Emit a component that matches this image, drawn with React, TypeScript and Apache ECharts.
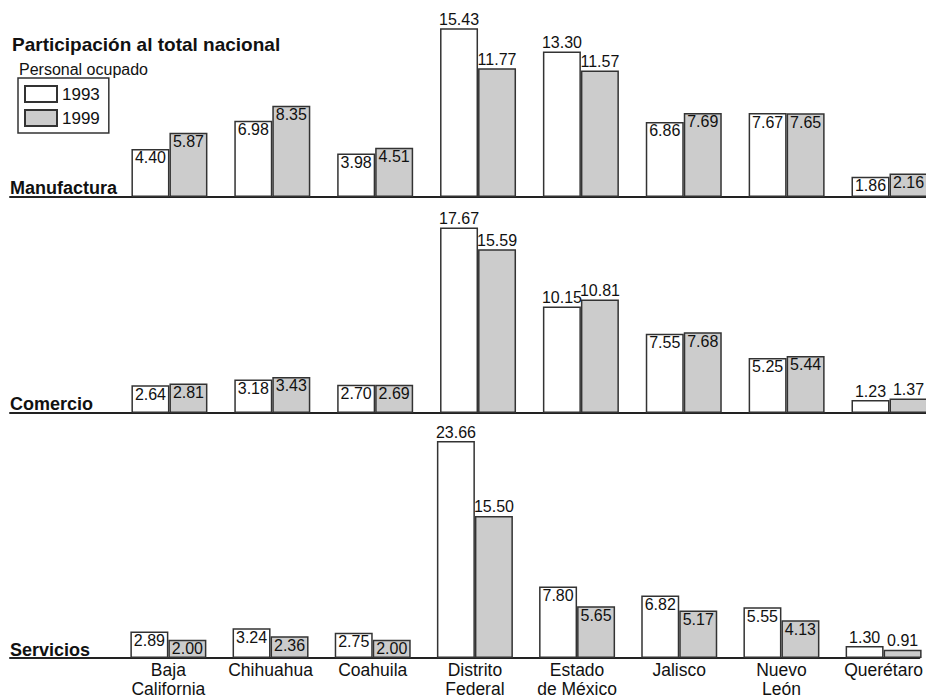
import React, { useEffect, useRef } from "react";
import * as echarts from "echarts";

const categories = ["Baja\nCalifornia", "Chihuahua", "Coahuila", "Distrito\nFederal", "Estado\nde México", "Jalisco", "Nuevo\nLeón", "Querétaro"];
const years = ["1993", "1999"];
const panels = ["Manufactura", "Comercio", "Servicios"];

const manufactura1993 = [4.40, 6.98, 3.98, 15.43, 13.30, 6.86, 7.67, 1.86];
const manufactura1999 = [5.87, 8.35, 4.51, 11.77, 11.57, 7.69, 7.65, 2.16];
const comercio1993 = [2.64, 3.18, 2.70, 17.67, 10.15, 7.55, 5.25, 1.23];
const comercio1999 = [2.81, 3.43, 2.69, 15.59, 10.81, 7.68, 5.44, 1.37];
const servicios1993 = [2.89, 3.24, 2.75, 23.66, 7.80, 6.82, 5.55, 1.30];
const servicios1999 = [2.00, 2.36, 2.00, 15.50, 5.65, 5.17, 4.13, 0.91];

const panelData = [
  [manufactura1993, manufactura1999],
  [comercio1993, comercio1999],
  [servicios1993, servicios1999],
];

const FONT = "'Liberation Sans', Arial, Helvetica, sans-serif";
const panelMax = [16, 18, 24];
const gridTop = [22, 224, 438];
const gridBottomY = [197, 413, 659];
const X_MIN = -1.55;
const X_MAX = 7.35;

export default function App() {
  const ref = useRef<HTMLDivElement>(null);
  useEffect(() => {
    if (!ref.current) return;
    const chart = echarts.init(ref.current, null, { renderer: "svg" });
    const grids = panels.map((_, p) => ({
      left: 10,
      right: 0.5,
      top: gridTop[p],
      height: gridBottomY[p] - gridTop[p],
    }));
    const xAxes = panels.map((_, p) => ({
      type: "value",
      gridIndex: p,
      min: X_MIN,
      max: X_MAX,
      interval: p === 2 ? 0.05 : undefined,
      splitLine: { show: false },
      axisTick: { show: false },
      axisLine: { show: true, onZero: false, lineStyle: { color: "#222", width: 2 } },
      axisLabel: p === 2
        ? {
            show: true,
            margin: 3,
            fontSize: 17.5,
            lineHeight: 18.5,
            color: "#111",
            fontFamily: FONT,
            showMinLabel: true,
            showMaxLabel: true,
            formatter: (v: number) => {
              const r = Math.round(v);
              return Math.abs(v - r) < 1e-6 && r >= 0 && r < categories.length ? categories[r] : "";
            },
          }
        : { show: false },
    }));
    const yAxes = panels.map((_, p) => ({
      type: "value",
      gridIndex: p,
      min: 0,
      max: panelMax[p],
      show: false,
    }));
    const series: any[] = [];
    panels.forEach((_, p) => {
      const pxPerUnit = (gridBottomY[p] - gridTop[p]) / panelMax[p];
      years.forEach((yr, y) => {
        series.push({
          type: "bar",
          name: yr,
          xAxisIndex: p,
          yAxisIndex: p,
          barWidth: 38,
          barGap: "0%",
          itemStyle: { color: y === 0 ? "#ffffff" : "#cccccc", borderColor: "#333", borderWidth: 1.5 },
          label: {
            show: true,
            fontSize: 16,
            color: "#111",
            fontFamily: FONT,
            distance: 1,
            formatter: (prm: any) => Number(prm.value[1]).toFixed(2),
          },
          data: panelData[p][y].map((v, i) => ({
            value: [i, v],
            label: { position: v >= 10 || v * pxPerUnit < 16 ? "top" : "insideTop" },
          })),
        });
      });
    });
    chart.setOption({
      animation: false,
      backgroundColor: "#ffffff",
      textStyle: { fontFamily: FONT },
      title: [
        { text: "Participación al total nacional", left: 12, top: 35, padding: 0, textStyle: { fontSize: 19, fontWeight: "bold", color: "#111", fontFamily: FONT } },
        { text: "Personal ocupado", left: 19, top: 61, padding: 0, textStyle: { fontSize: 16, fontWeight: "normal", color: "#111", fontFamily: FONT } },
        ...panels.map((name, p) => ({
          text: name,
          left: 10,
          top: gridBottomY[p] - 18,
          padding: 0,
          textStyle: { fontSize: 18, fontWeight: "bold", color: "#111", fontFamily: FONT },
        })),
      ],
      legend: {
        orient: "vertical",
        left: 18,
        top: 78,
        itemWidth: 32,
        itemHeight: 16,
        itemGap: 6,
        padding: [7, 9, 6, 6],
        borderColor: "#333",
        borderWidth: 1.5,
        selectedMode: false,
        icon: "rect",
        data: years,
        textStyle: { fontSize: 17, color: "#111", fontFamily: FONT },
      },
      grid: grids,
      xAxis: xAxes,
      yAxis: yAxes,
      series,
    });
    return () => chart.dispose();
  }, []);
  return <div ref={ref} style={{ position: "absolute", left: 0, top: 0, width: 926, height: 698 }} />;
}
